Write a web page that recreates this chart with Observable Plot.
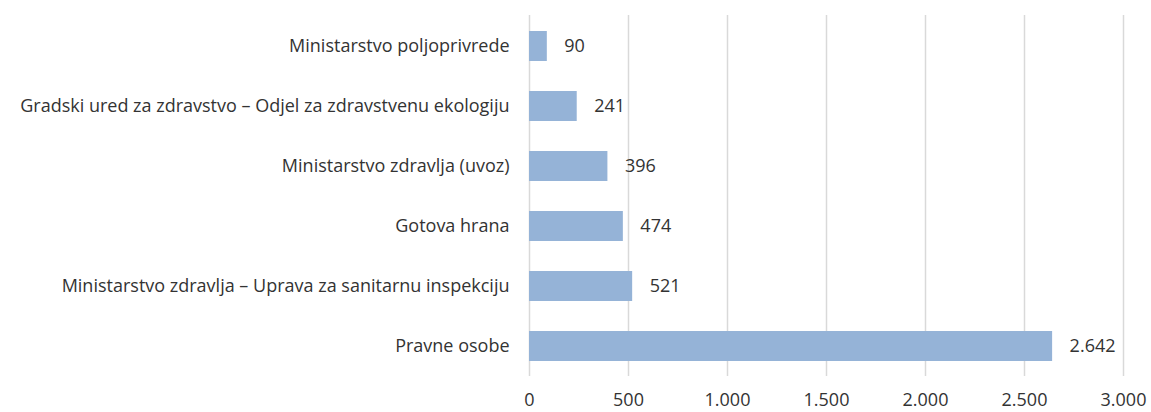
<!DOCTYPE html>
<html>
<head>
<meta charset="utf-8">
<script src="https://cdn.jsdelivr.net/npm/d3@7"></script>
<script src="https://cdn.jsdelivr.net/npm/@observablehq/plot@0.6"></script>
<style>
  html, body { margin: 0; padding: 0; background: #fff; }
</style>
</head>
<body>
<div id="chart"></div>
<script>
const categories = [
  "Ministarstvo poljoprivrede",
  "Gradski ured za zdravstvo – Odjel za zdravstvenu ekologiju",
  "Ministarstvo zdravlja (uvoz)",
  "Gotova hrana",
  "Ministarstvo zdravlja – Uprava za sanitarnu inspekciju",
  "Pravne osobe"
];
const values = [90, 241, 396, 474, 521, 2642];
const xTicks = [0, 500, 1000, 1500, 2000, 2500, 3000];

const locale = d3.formatLocale({decimal: ",", thousands: ".", grouping: [3], currency: ["", ""]});
const fmt = locale.format(",d");

const data = categories.map((c, i) => ({category: c, value: values[i]}));

const chart = Plot.plot({
  width: 1151,
  height: 412,
  marginLeft: 529,
  marginRight: 28,
  marginTop: 15,
  marginBottom: 36,
  style: {fontFamily: "'Open Sans', sans-serif", fontSize: "18px", color: "#333", background: "#fff"},
  x: {domain: [0, 3000], ticks: xTicks, tickFormat: fmt, tickSize: 0, label: null},
  y: {domain: categories, paddingInner: 0.5, paddingOuter: 0.25, tickSize: 0, label: null},
  marks: [
    Plot.ruleX(xTicks, {stroke: "#d9d9d9", strokeWidth: 1.5}),
    Plot.barX(data, {x: "value", y: "category", fill: "#95b3d7"}),
    Plot.text(data, {x: "value", y: "category", text: d => fmt(d.value), textAnchor: "start", dx: 17, fill: "#333", fontSize: 18, fontWeight: 400}),
    Plot.axisX({ticks: xTicks, tickFormat: fmt, tickSize: 0, tickPadding: 17, fill: "#333", fontWeight: 400}),
    Plot.axisY({tickSize: 0, tickPadding: 20, fill: "#333", fontWeight: 400})
  ]
});
document.getElementById("chart").appendChild(chart);
</script>
</body>
</html>
